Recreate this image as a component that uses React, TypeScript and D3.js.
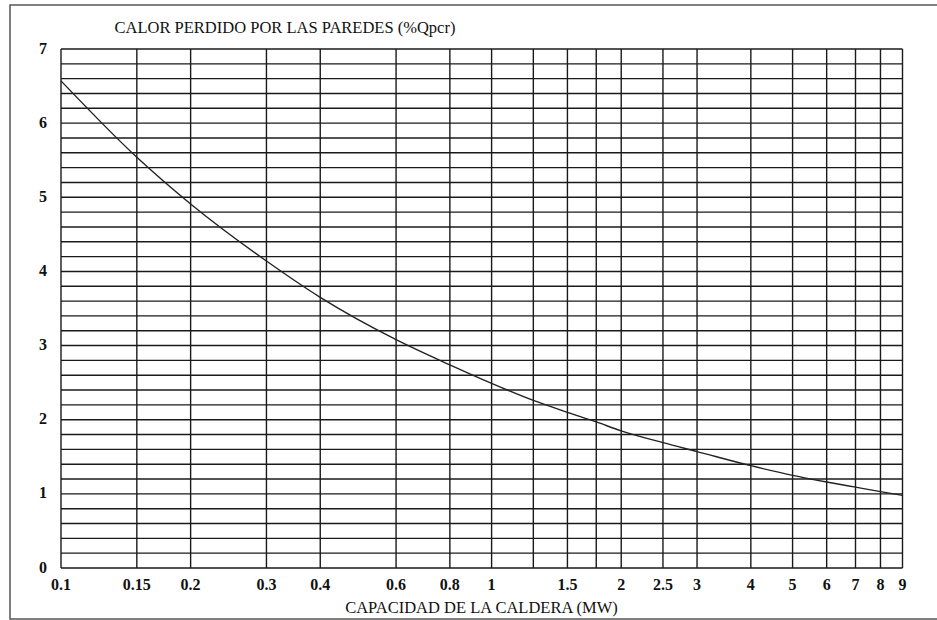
import React, { useEffect, useRef } from 'react';
import * as d3 from 'd3';

// curve
const capacity = [0.1, 0.15, 0.2, 0.3, 0.4, 0.6, 0.8, 1, 1.25, 1.5, 1.75, 2, 2.5, 3, 4, 5, 6, 7, 8, 9];
const heatLoss = [6.57, 5.54, 4.91, 4.14, 3.65, 3.08, 2.74, 2.49, 2.26, 2.1, 1.97, 1.85, 1.69, 1.57, 1.38, 1.25, 1.16, 1.09, 1.03, 0.98];

// vertical grid lines and labelled ticks
const xGrid = [0.1, 0.15, 0.2, 0.3, 0.4, 0.6, 0.8, 1, 1.25, 1.5, 1.75, 2, 2.5, 3, 4, 5, 6, 7, 8, 9];
const xTicks = [0.1, 0.15, 0.2, 0.3, 0.4, 0.6, 0.8, 1, 1.5, 2, 2.5, 3, 4, 5, 6, 7, 8, 9];
const yTicks = [0, 1, 2, 3, 4, 5, 6, 7];

const TITLE = 'CALOR PERDIDO POR LAS PAREDES (%Qpcr)';
const X_LABEL = 'CAPACIDAD DE LA CALDERA (MW)';

export default function App() {
  const svgRef = useRef<SVGSVGElement>(null);

  useEffect(() => {
    const width = 937;
    const height = 620;
    const margin = { top: 49, right: 34.5, bottom: 52, left: 61 };

    d3.select(svgRef.current).selectAll('*').remove();

    const svg = d3.select(svgRef.current)
      .attr('width', width)
      .attr('height', height);

    const font = '"Liberation Serif", "Times New Roman", serif';

    // Outer frame
    svg.append('rect')
      .attr('x', 10)
      .attr('y', 5)
      .attr('width', 940)
      .attr('height', 614)
      .attr('fill', 'none')
      .attr('stroke', '#555')
      .attr('stroke-width', 1.5);

    const xScale = d3.scaleLog()
      .domain([0.1, 9])
      .range([margin.left, width - margin.right]);

    const yScale = d3.scaleLinear()
      .domain([0, 7])
      .range([height - margin.bottom, margin.top]);

    const grid = svg.append('g')
      .attr('stroke', '#1a1a1a')
      .attr('stroke-width', 1.4);

    // Horizontal grid every 0.2
    grid.selectAll('.hline')
      .data(yScale.ticks(35))
      .enter()
      .append('line')
      .attr('x1', xScale(0.1))
      .attr('x2', xScale(9))
      .attr('y1', d => yScale(d))
      .attr('y2', d => yScale(d));

    // Vertical grid
    grid.selectAll('.vline')
      .data(xGrid)
      .enter()
      .append('line')
      .attr('x1', d => xScale(d))
      .attr('x2', d => xScale(d))
      .attr('y1', yScale(0))
      .attr('y2', yScale(7));

    // Curve
    const line = d3.line<number>()
      .x((d, i) => xScale(capacity[i]))
      .y(d => yScale(d))
      .curve(d3.curveMonotoneX);

    svg.append('path')
      .datum(heatLoss)
      .attr('fill', 'none')
      .attr('stroke', '#222')
      .attr('stroke-width', 1.4)
      .attr('d', line);

    // Y tick labels
    svg.selectAll('.ylab')
      .data(yTicks)
      .enter()
      .append('text')
      .attr('x', 47)
      .attr('y', d => yScale(d) - 1)
      .attr('text-anchor', 'end')
      .attr('dominant-baseline', 'central')
      .attr('fill', '#111')
      .style('font-family', font)
      .style('font-size', '16px')
      .style('font-weight', 'bold')
      .text(d => String(d));

    // X tick labels
    svg.selectAll('.xlab')
      .data(xTicks)
      .enter()
      .append('text')
      .attr('x', d => xScale(d))
      .attr('y', 590)
      .attr('text-anchor', 'middle')
      .attr('fill', '#111')
      .style('font-family', font)
      .style('font-size', '16px')
      .style('font-weight', 'bold')
      .text(d => String(d));

    // Title
    svg.append('text')
      .attr('x', 285)
      .attr('y', 33)
      .attr('text-anchor', 'middle')
      .attr('fill', '#111')
      .style('font-family', font)
      .style('font-size', '16.5px')
      .text(TITLE);

    // X axis label
    svg.append('text')
      .attr('x', 481.5)
      .attr('y', 613)
      .attr('text-anchor', 'middle')
      .attr('fill', '#111')
      .style('font-family', font)
      .style('font-size', '16.5px')
      .text(X_LABEL);
  }, []);

  return (
    <svg
      ref={svgRef}
      style={{ position: 'absolute', left: 0, top: 0, background: '#fff' }}
    ></svg>
  );
}
